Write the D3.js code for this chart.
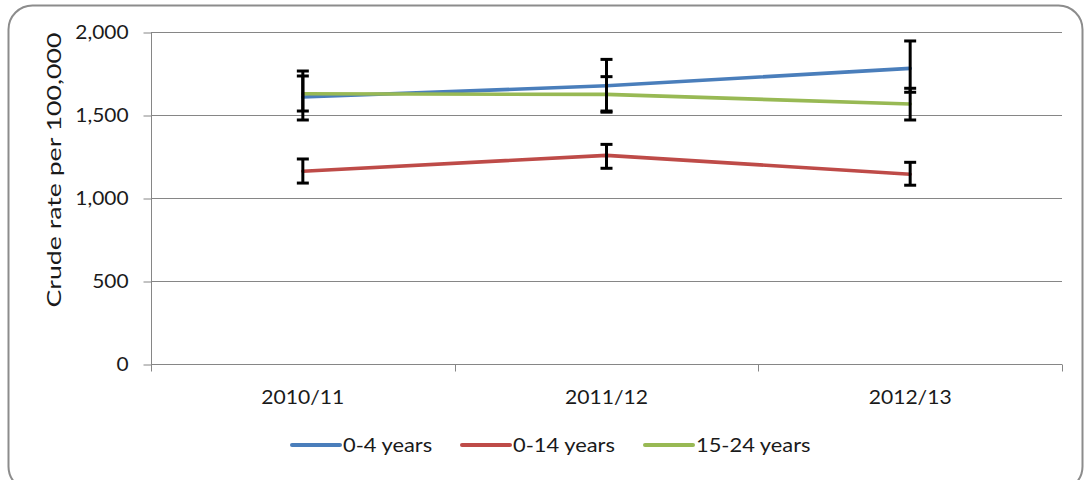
<!DOCTYPE html>
<html>
<head>
<meta charset="utf-8">
<script src="https://cdn.jsdelivr.net/npm/d3@7"></script>
<style>
  html, body { margin: 0; padding: 0; background: #fff; }
  svg { display: block; }
  text { font-family: Lato, "Open Sans", sans-serif; fill: #1a1a1a; }
</style>
</head>
<body>
<script>
const categories = ["2010/11", "2011/12", "2012/13"];
const yTicks = [0, 500, 1000, 1500, 2000];
const seriesNames = ["0-4 years", "0-14 years", "15-24 years"];
const blueValues = [1608, 1676, 1781];
const blueLower = [1470, 1517, 1637];
const blueUpper = [1765, 1835, 1946];
const redValues = [1161, 1257, 1143];
const redLower = [1090, 1179, 1077];
const redUpper = [1235, 1323, 1215];
const greenValues = [1628, 1624, 1566];
const greenLower = [1524, 1524, 1470];
const greenUpper = [1735, 1731, 1661];
const colors = ["#4A7EBB", "#BE4B48", "#98B954"];

const series = [
  { name: seriesNames[0], values: blueValues, lower: blueLower, upper: blueUpper, color: colors[0] },
  { name: seriesNames[1], values: redValues, lower: redLower, upper: redUpper, color: colors[1] },
  { name: seriesNames[2], values: greenValues, lower: greenLower, upper: greenUpper, color: colors[2] }
];

const W = 1085, H = 480;
const svg = d3.select("body").append("svg").attr("width", W).attr("height", H);

function stretch(sel, factor) {
  sel.each(function () {
    const len = this.getComputedTextLength();
    d3.select(this).attr("textLength", len * factor).attr("lengthAdjust", "spacingAndGlyphs");
  });
}

// outer rounded border
svg.append("rect")
  .attr("x", 8.5).attr("y", 5.5).attr("width", 1074).attr("height", 485)
  .attr("rx", 24).attr("ry", 24)
  .attr("fill", "#fff").attr("stroke", "#8c8c8c").attr("stroke-width", 2);

const x = d3.scaleBand().domain(categories).range([151, 1062]);
const y = d3.scaleLinear().domain([0, 2000]).range([364, 32]);

// gridlines
svg.append("g").selectAll("line").data(yTicks.filter(d => d > 0)).join("line")
  .attr("x1", 151).attr("x2", 1062)
  .attr("y1", d => Math.round(y(d)) + 0.5).attr("y2", d => Math.round(y(d)) + 0.5)
  .attr("stroke", "#868686").attr("stroke-width", 1);

// y axis
const yAxis = svg.append("g").attr("transform", "translate(151.5,0.5)")
  .call(d3.axisLeft(y).tickValues(yTicks).tickFormat(d3.format(",")).tickSize(8).tickPadding(15));
yAxis.select(".domain").attr("stroke", "#868686").attr("d", `M0,${y(0)}V${y(2000)}`);
yAxis.selectAll(".tick line").attr("stroke", "#868686");
yAxis.selectAll(".tick text").attr("font-size", 19).attr("font-family", "Lato, sans-serif").attr("fill", "#1a1a1a")
  .call(stretch, 1.1);

// x axis
const xAxisG = svg.append("g").attr("transform", `translate(0,${Math.round(y(0)) + 0.5})`);
xAxisG.append("line").attr("x1", 151).attr("x2", 1062).attr("stroke", "#868686");
const bounds = categories.map(c => x(c)).concat([x.range()[1]]);
xAxisG.selectAll("line.tk").data(bounds).join("line").attr("class", "tk")
  .attr("x1", d => Math.round(d) + 0.5).attr("x2", d => Math.round(d) + 0.5)
  .attr("y1", 0).attr("y2", 7).attr("stroke", "#868686");
xAxisG.selectAll("text").data(categories).join("text")
  .attr("x", d => x(d) + x.bandwidth() / 2).attr("y", 39)
  .attr("text-anchor", "middle").attr("font-size", 19).text(d => d)
  .call(stretch, 1.11);

// y axis title
svg.append("text")
  .attr("transform", "translate(61,170) rotate(-90)")
  .attr("text-anchor", "middle").attr("font-size", 19)
  .attr("textLength", 275).attr("lengthAdjust", "spacingAndGlyphs")
  .text("Crude rate per 100,000");

const cx = d => x(d) + x.bandwidth() / 2;
const line = d3.line().x(d => cx(d.c)).y(d => y(d.v));

// series lines
svg.append("g").selectAll("path").data(series).join("path")
  .attr("d", s => line(categories.map((c, i) => ({ c, v: s.values[i] }))))
  .attr("fill", "none").attr("stroke", s => s.color).attr("stroke-width", 3.6)
  .attr("stroke-linecap", "round").attr("stroke-linejoin", "round");

// error bars
const errData = [];
series.forEach(s => categories.forEach((c, i) => errData.push({ c, lo: s.lower[i], hi: s.upper[i] })));
const eg = svg.append("g").attr("stroke", "#000").attr("stroke-width", 3);
eg.selectAll("line.v").data(errData).join("line").attr("class", "v")
  .attr("x1", d => cx(d.c)).attr("x2", d => cx(d.c))
  .attr("y1", d => y(d.lo)).attr("y2", d => y(d.hi));
eg.selectAll("line.hi").data(errData).join("line").attr("class", "hi")
  .attr("x1", d => cx(d.c) - 6).attr("x2", d => cx(d.c) + 6)
  .attr("y1", d => y(d.hi)).attr("y2", d => y(d.hi));
eg.selectAll("line.lo").data(errData).join("line").attr("class", "lo")
  .attr("x1", d => cx(d.c) - 6).attr("x2", d => cx(d.c) + 6)
  .attr("y1", d => y(d.lo)).attr("y2", d => y(d.lo));

// legend
const legendX = [292, 462, 645];
const lg = svg.append("g").selectAll("g").data(series).join("g")
  .attr("transform", (d, i) => `translate(${legendX[i]},445)`);
lg.append("line").attr("x1", 0).attr("x2", 48).attr("y1", 0).attr("y2", 0)
  .attr("stroke", d => d.color).attr("stroke-width", 4).attr("stroke-linecap", "round");
lg.append("text").attr("x", 51).attr("y", 7).attr("font-size", 19).text(d => d.name)
  .call(stretch, 1.15);
</script>
</body>
</html>
